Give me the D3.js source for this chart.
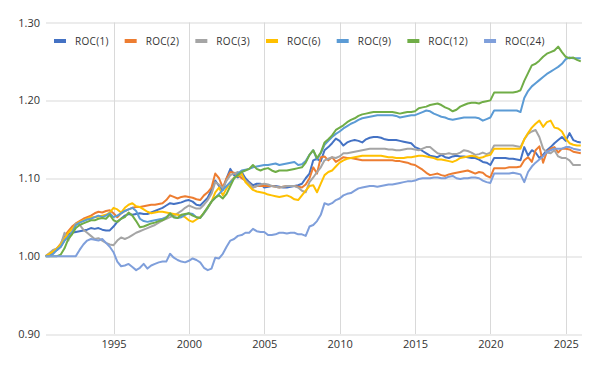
<!DOCTYPE html>
<html>
<head>
<meta charset="utf-8">
<script src="https://cdn.jsdelivr.net/npm/d3@7"></script>
<style>
  body { margin: 0; background: #fff; }
  text { font-family: "Open Sans", "Liberation Sans", sans-serif; }
</style>
</head>
<body>
<div id="chart"></div>
<script>

// quarterly observations, from mid-1990 to start of 2026
var dates = d3.range(143).map(i => 1990.5 + i * 0.25);

var seriesNames = ["ROC(1)", "ROC(2)", "ROC(3)", "ROC(6)", "ROC(9)", "ROC(12)", "ROC(24)"];
var seriesColors = ["#4472C4", "#ED7D31", "#A5A5A5", "#FFC000", "#5B9BD5", "#70AD47", "#7F9FDB"];

var yTicks = [0.90, 1.00, 1.10, 1.20, 1.30];
var xTicks = [1995, 2000, 2005, 2010, 2015, 2020, 2025];

var roc1 = [
  1.000, 1.002,
  1.005, 1.008, 1.012, 1.020,
  1.028, 1.030, 1.031, 1.032,
  1.033, 1.034, 1.036, 1.035,
  1.036, 1.034, 1.033, 1.033,
  1.038, 1.044, 1.048, 1.052,
  1.054, 1.053, 1.054, 1.055,
  1.054, 1.054, 1.056, 1.058,
  1.060, 1.062, 1.065, 1.068,
  1.067, 1.068, 1.069, 1.071,
  1.072, 1.070, 1.066, 1.065,
  1.070, 1.075, 1.085, 1.097,
  1.090, 1.085, 1.100, 1.112,
  1.104, 1.101, 1.108, 1.100,
  1.095, 1.091, 1.093, 1.093,
  1.088, 1.089, 1.090, 1.090,
  1.089, 1.088, 1.088, 1.089,
  1.090, 1.091, 1.093, 1.100,
  1.106, 1.123, 1.125, 1.122,
  1.136, 1.140, 1.145, 1.151,
  1.148, 1.142, 1.146, 1.148,
  1.149, 1.148, 1.146, 1.150,
  1.152, 1.153, 1.153, 1.152,
  1.150, 1.149, 1.149, 1.149,
  1.148, 1.147, 1.146, 1.145,
  1.140, 1.138, 1.135, 1.132,
  1.129, 1.128, 1.127, 1.130,
  1.127, 1.126, 1.128, 1.129,
  1.128, 1.128, 1.127, 1.126,
  1.126, 1.124, 1.121, 1.120,
  1.117, 1.126, 1.126, 1.126,
  1.126, 1.125, 1.125, 1.124,
  1.123, 1.140, 1.129, 1.136,
  1.133, 1.126, 1.130, 1.136,
  1.140, 1.145, 1.149, 1.153,
  1.148, 1.158, 1.149, 1.147,
  1.146
];

var roc2 = [
  1.000, 1.003,
  1.006, 1.010, 1.016, 1.026,
  1.032, 1.038, 1.042, 1.045,
  1.048, 1.050, 1.052, 1.055,
  1.057, 1.056, 1.058, 1.059,
  1.055, 1.050, 1.055, 1.058,
  1.060, 1.062, 1.063, 1.063,
  1.064, 1.065, 1.066, 1.066,
  1.067, 1.068, 1.072, 1.078,
  1.076, 1.074, 1.076, 1.077,
  1.076, 1.075, 1.073, 1.072,
  1.078, 1.082, 1.088, 1.106,
  1.100, 1.088, 1.100, 1.108,
  1.107, 1.104, 1.100, 1.097,
  1.093, 1.088, 1.090, 1.090,
  1.090, 1.090, 1.090, 1.089,
  1.088, 1.089, 1.090, 1.090,
  1.090, 1.089, 1.088, 1.092,
  1.100, 1.114, 1.106, 1.127,
  1.128, 1.123, 1.127, 1.121,
  1.124, 1.127, 1.126, 1.126,
  1.125, 1.124, 1.123, 1.123,
  1.123, 1.123, 1.123, 1.123,
  1.123, 1.123, 1.123, 1.122,
  1.122, 1.121, 1.120, 1.118,
  1.117, 1.114, 1.111, 1.107,
  1.104, 1.105, 1.106, 1.104,
  1.103, 1.105, 1.106, 1.107,
  1.108, 1.109, 1.110, 1.108,
  1.106, 1.108, 1.107, 1.103,
  1.101, 1.113, 1.113, 1.113,
  1.113, 1.114, 1.114, 1.114,
  1.115, 1.123, 1.127, 1.121,
  1.136, 1.141, 1.120, 1.134,
  1.138, 1.140, 1.133, 1.138,
  1.138, 1.137, 1.134, 1.133,
  1.132
];

var roc3 = [
  1.000, 1.004,
  1.008, 1.010, 1.015, 1.030,
  1.020, 1.032, 1.042, 1.040,
  1.034, 1.030, 1.026, 1.022,
  1.023, 1.020, 1.017, 1.015,
  1.014, 1.020, 1.024, 1.022,
  1.024, 1.027, 1.030, 1.032,
  1.034, 1.036, 1.038, 1.040,
  1.043, 1.046, 1.048, 1.050,
  1.052, 1.055, 1.058, 1.062,
  1.065, 1.063, 1.061, 1.061,
  1.066, 1.072, 1.080, 1.095,
  1.092, 1.087, 1.097, 1.104,
  1.106, 1.108, 1.104, 1.097,
  1.093, 1.088, 1.090, 1.092,
  1.093, 1.092, 1.090, 1.089,
  1.088, 1.089, 1.090, 1.090,
  1.090, 1.088, 1.084, 1.082,
  1.095, 1.101, 1.108, 1.114,
  1.123, 1.125, 1.127, 1.126,
  1.128, 1.132, 1.132, 1.133,
  1.134, 1.135, 1.136, 1.137,
  1.138, 1.138, 1.138, 1.138,
  1.138, 1.137, 1.137, 1.136,
  1.136, 1.137, 1.138, 1.138,
  1.137, 1.136, 1.138, 1.140,
  1.140, 1.136, 1.132, 1.131,
  1.131, 1.132, 1.131, 1.131,
  1.133, 1.136, 1.135, 1.133,
  1.130, 1.131, 1.133, 1.131,
  1.133, 1.142, 1.142, 1.142,
  1.142, 1.142, 1.142, 1.141,
  1.140, 1.150, 1.157, 1.160,
  1.162, 1.153, 1.138, 1.133,
  1.132, 1.136, 1.128, 1.126,
  1.126, 1.123, 1.117, 1.117,
  1.117
];

var roc6 = [
  1.000, 1.003,
  1.006, 1.010, 1.015, 1.022,
  1.030, 1.035, 1.040, 1.044,
  1.046, 1.048, 1.050, 1.050,
  1.051, 1.052, 1.053, 1.056,
  1.062, 1.060, 1.056, 1.062,
  1.066, 1.068, 1.064, 1.063,
  1.060, 1.057, 1.055, 1.056,
  1.057, 1.057, 1.056, 1.055,
  1.054, 1.053, 1.052, 1.050,
  1.046, 1.044, 1.047, 1.050,
  1.055, 1.062, 1.070, 1.082,
  1.088, 1.078, 1.087, 1.095,
  1.101, 1.103, 1.106, 1.095,
  1.090, 1.085, 1.083, 1.082,
  1.081, 1.079, 1.078, 1.077,
  1.076, 1.077, 1.078, 1.076,
  1.073, 1.072, 1.078, 1.084,
  1.090, 1.091, 1.082, 1.093,
  1.104, 1.108, 1.110, 1.115,
  1.120, 1.123, 1.125, 1.126,
  1.127, 1.128, 1.129, 1.129,
  1.129, 1.129, 1.129, 1.129,
  1.128, 1.127, 1.127, 1.126,
  1.126, 1.126, 1.127, 1.127,
  1.128, 1.129, 1.129, 1.128,
  1.127, 1.126, 1.124, 1.124,
  1.123, 1.122, 1.121, 1.123,
  1.126, 1.127, 1.128, 1.129,
  1.128, 1.126, 1.127, 1.129,
  1.130, 1.138, 1.138, 1.138,
  1.138, 1.138, 1.138, 1.138,
  1.138, 1.150, 1.158, 1.165,
  1.170, 1.174, 1.166, 1.172,
  1.174, 1.165, 1.164, 1.160,
  1.151, 1.145, 1.143, 1.142,
  1.142
];

var roc9 = [
  1.000, 1.000,
  1.003, 1.008, 1.012, 1.020,
  1.025, 1.030, 1.040, 1.043,
  1.045, 1.047, 1.048, 1.050,
  1.052, 1.050, 1.052, 1.055,
  1.050, 1.052, 1.055, 1.058,
  1.060, 1.062, 1.058, 1.048,
  1.045, 1.044, 1.045, 1.046,
  1.047, 1.048, 1.050, 1.054,
  1.050, 1.049, 1.050, 1.053,
  1.055, 1.054, 1.050, 1.049,
  1.055, 1.062, 1.070, 1.075,
  1.080, 1.085, 1.090, 1.095,
  1.100, 1.106, 1.110, 1.111,
  1.112, 1.114, 1.115, 1.116,
  1.117, 1.117, 1.118, 1.119,
  1.117, 1.118, 1.119, 1.120,
  1.121, 1.117, 1.118, 1.122,
  1.130, 1.136, 1.124, 1.132,
  1.143, 1.148, 1.153, 1.157,
  1.160, 1.164, 1.167, 1.170,
  1.172, 1.175, 1.177, 1.178,
  1.179, 1.180, 1.181, 1.181,
  1.181, 1.181, 1.181, 1.180,
  1.178, 1.179, 1.180, 1.181,
  1.181, 1.183, 1.185, 1.187,
  1.186, 1.183, 1.181, 1.179,
  1.178, 1.176, 1.175, 1.176,
  1.177, 1.178, 1.178, 1.178,
  1.178, 1.177, 1.174, 1.176,
  1.178, 1.187, 1.187, 1.187,
  1.187, 1.187, 1.187, 1.187,
  1.185, 1.203, 1.212, 1.218,
  1.222, 1.226, 1.230, 1.234,
  1.237, 1.240, 1.243, 1.247,
  1.253, 1.255, 1.254, 1.254,
  1.254
];

var roc12 = [
  1.000, 1.000,
  1.000, 1.000, 1.002, 1.010,
  1.022, 1.028, 1.036, 1.040,
  1.042, 1.044, 1.046, 1.046,
  1.048, 1.049, 1.048, 1.053,
  1.046, 1.044, 1.048, 1.050,
  1.056, 1.052, 1.045, 1.037,
  1.038, 1.040, 1.042, 1.043,
  1.045, 1.046, 1.049, 1.055,
  1.050, 1.049, 1.053, 1.054,
  1.055, 1.052, 1.050, 1.049,
  1.056, 1.063, 1.070, 1.075,
  1.078, 1.074, 1.080, 1.090,
  1.100, 1.104, 1.108, 1.110,
  1.112, 1.117, 1.112, 1.110,
  1.112, 1.113, 1.110, 1.108,
  1.110, 1.110, 1.110, 1.111,
  1.112, 1.113, 1.114, 1.120,
  1.130, 1.136, 1.126, 1.133,
  1.146, 1.150, 1.155, 1.162,
  1.165, 1.168, 1.172, 1.175,
  1.177, 1.180, 1.182, 1.183,
  1.184, 1.185, 1.185, 1.185,
  1.185, 1.185, 1.185, 1.184,
  1.183, 1.184, 1.185, 1.185,
  1.186, 1.190, 1.191, 1.192,
  1.194, 1.195, 1.196, 1.194,
  1.191, 1.189, 1.186, 1.188,
  1.192, 1.194, 1.196, 1.197,
  1.197, 1.196, 1.198, 1.199,
  1.200, 1.210, 1.210, 1.210,
  1.210, 1.210, 1.210, 1.211,
  1.213, 1.225, 1.235, 1.245,
  1.247, 1.251, 1.256, 1.260,
  1.262, 1.264, 1.269, 1.262,
  1.256, 1.254, 1.255, 1.252,
  1.250
];

var roc24 = [
  1.000, 1.000,
  1.000, 1.000, 1.000, 1.000,
  1.000, 1.000, 1.000, 1.008,
  1.015, 1.020, 1.022, 1.021,
  1.020, 1.022, 1.017, 1.012,
  1.005, 0.993, 0.987, 0.988,
  0.990, 0.986, 0.982, 0.985,
  0.990, 0.984, 0.988, 0.990,
  0.992, 0.993, 0.993, 1.003,
  0.998, 0.995, 0.993, 0.992,
  0.994, 0.997, 0.995, 0.992,
  0.985, 0.982, 0.984, 0.998,
  0.997, 1.003, 1.012, 1.020,
  1.022, 1.026, 1.027, 1.030,
  1.030, 1.035, 1.032, 1.031,
  1.031, 1.027, 1.027, 1.028,
  1.030, 1.030, 1.029, 1.030,
  1.030, 1.028, 1.028, 1.026,
  1.038, 1.040, 1.045, 1.053,
  1.068, 1.066, 1.068, 1.072,
  1.074, 1.078, 1.080, 1.081,
  1.084, 1.087, 1.088, 1.089,
  1.090, 1.090, 1.089, 1.090,
  1.091, 1.092, 1.092, 1.093,
  1.094, 1.095, 1.096, 1.096,
  1.097, 1.099, 1.100, 1.100,
  1.100, 1.101, 1.101, 1.100,
  1.100, 1.102, 1.103, 1.100,
  1.099, 1.100, 1.100, 1.101,
  1.101, 1.100, 1.097, 1.095,
  1.094, 1.106, 1.106, 1.106,
  1.106, 1.106, 1.107, 1.106,
  1.105, 1.095, 1.108, 1.115,
  1.120, 1.124, 1.128, 1.134,
  1.136, 1.138, 1.138, 1.138,
  1.140, 1.140, 1.138, 1.137,
  1.136
];

var allSeries = [roc1, roc2, roc3, roc6, roc9, roc12, roc24];

var svgWidth = 600;
var svgHeight = 371;

var margin = { top: 22.5, right: 18, bottom: 37, left: 46 };
var width = svgWidth - margin.left - margin.right;
var height = svgHeight - margin.top - margin.bottom;

var svg = d3.select("#chart")
  .append("svg")
  .attr("width", svgWidth)
  .attr("height", svgHeight);

var chartGroup = svg.append("g")
  .attr("transform", `translate(${margin.left}, ${margin.top})`);

var xLinearScale = d3.scaleLinear()
  .domain([1990.52, 2026.08])
  .range([0, width]);

var yLinearScale = d3.scaleLinear()
  .domain([0.90, 1.30])
  .range([height, 0]);

// gridlines
chartGroup.append("g")
  .selectAll("line")
  .data(yTicks)
  .enter()
  .append("line")
  .attr("x1", 0)
  .attr("x2", width)
  .attr("y1", d => Math.round(yLinearScale(d)) + 0.5)
  .attr("y2", d => Math.round(yLinearScale(d)) + 0.5)
  .attr("stroke", "#d9d9d9")
  .attr("stroke-width", 1);

chartGroup.append("g")
  .selectAll("line")
  .data(xTicks)
  .enter()
  .append("line")
  .attr("x1", d => Math.round(xLinearScale(d)) + 0.5)
  .attr("x2", d => Math.round(xLinearScale(d)) + 0.5)
  .attr("y1", 0)
  .attr("y2", height)
  .attr("stroke", "#d9d9d9")
  .attr("stroke-width", 1);

// axes (labels only, Excel style)
var leftAxis = d3.axisLeft(yLinearScale)
  .tickValues(yTicks)
  .tickFormat(d3.format(".2f"))
  .tickSize(0)
  .tickPadding(6);

var bottomAxis = d3.axisBottom(xLinearScale)
  .tickValues(xTicks)
  .tickFormat(d3.format("d"))
  .tickSize(0)
  .tickPadding(6);

var yAxis = chartGroup.append("g").call(leftAxis);
var xAxis = chartGroup.append("g")
  .attr("transform", `translate(0, ${height})`)
  .call(bottomAxis);

[yAxis, xAxis].forEach(function(ax) {
  ax.select(".domain").remove();
  ax.selectAll("text")
    .attr("font-size", "11px")
    .attr("font-family", "Open Sans, Liberation Sans, sans-serif")
    .attr("fill", "#333333");
});

// lines
var line = d3.line()
  .x((d, i) => xLinearScale(dates[i]))
  .y(d => yLinearScale(d));

chartGroup.selectAll(".rocLine")
  .data(allSeries)
  .enter()
  .append("path")
  .attr("class", "rocLine")
  .attr("d", d => line(d))
  .attr("fill", "none")
  .attr("stroke", (d, i) => seriesColors[i])
  .attr("stroke-width", 2)
  .attr("stroke-linejoin", "round");

// legend
var legendGroup = svg.append("g")
  .attr("transform", "translate(54, 41)");

var legendX = 0;
seriesNames.forEach(function(name, i) {
  var item = legendGroup.append("g")
    .attr("transform", `translate(${legendX}, 0)`);
  item.append("rect")
    .attr("x", 0)
    .attr("y", -2)
    .attr("width", 12)
    .attr("height", 4)
    .attr("fill", seriesColors[i]);
  var label = item.append("text")
    .attr("x", 21)
    .attr("y", 0)
    .attr("dy", "0.35em")
    .attr("font-size", "10px")
    .attr("letter-spacing", "0.3px")
    .attr("fill", "#333333")
    .text(name);
  legendX += 21 + label.node().getComputedTextLength() + 16;
});

</script>
</body>
</html>
